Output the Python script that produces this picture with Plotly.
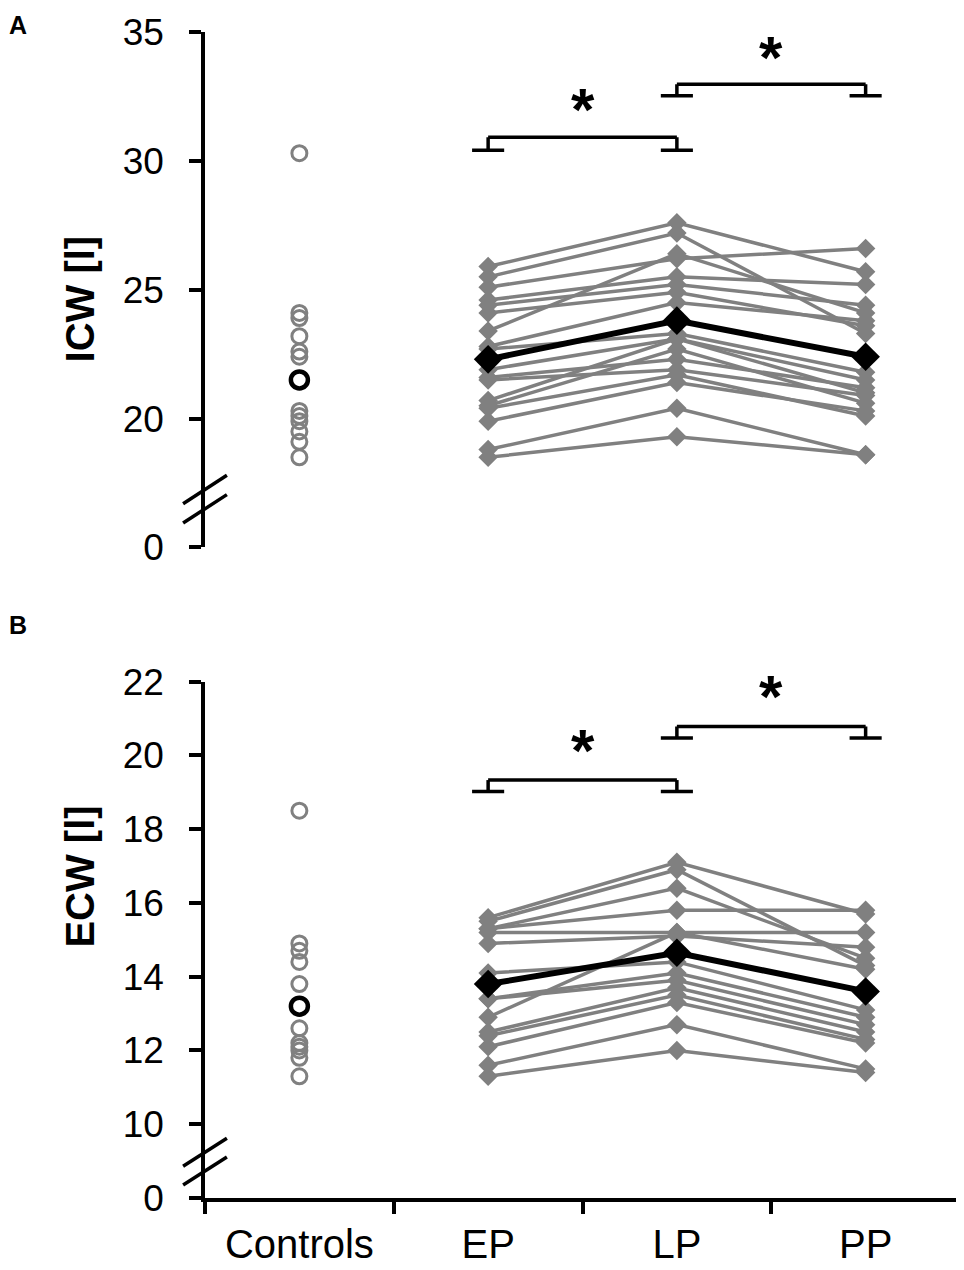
import plotly.graph_objects as go

# categories on the x axis
groups = ["Controls", "EP", "LP", "PP"]
phases = ["EP", "LP", "PP"]

# ICW [l] - one entry per subject
icw_ep = [25.9, 25.5, 25.1, 24.6, 24.4, 24.1, 23.4, 22.8, 22.7, 21.9, 21.6, 21.5, 20.7, 20.5, 20.4, 19.9, 18.8, 18.5]
icw_lp = [27.6, 27.2, 26.2, 25.5, 25.2, 24.9, 26.4, 24.5, 23.3, 23.1, 22.3, 21.9, 23.1, 22.7, 21.7, 21.4, 20.4, 19.3]
icw_pp = [25.7, 23.3, 26.6, 25.2, 24.4, 23.6, 24.1, 23.8, 21.8, 21.5, 21.2, 20.9, 21.0, 20.6, 20.1, 20.3, 18.6, 18.6]
icw_mean = [22.3, 23.8, 22.4]
icw_controls = [30.3, 24.1, 23.9, 23.2, 22.6, 22.4, 20.3, 20.1, 19.9, 19.5, 19.1, 18.5]
icw_controls_mean = 21.5

# ECW [l]
ecw_ep = [15.6, 15.5, 15.3, 15.3, 15.2, 14.9, 14.1, 13.4, 12.9, 13.4, 12.5, 12.4, 12.1, 11.6, 11.3]
ecw_lp = [17.1, 16.9, 16.4, 15.8, 15.2, 15.1, 14.4, 14.1, 15.2, 13.9, 13.7, 13.5, 13.3, 12.7, 12.0]
ecw_pp = [15.7, 14.3, 14.5, 15.8, 15.2, 14.8, 13.1, 12.9, 14.2, 12.7, 12.5, 12.3, 12.2, 11.5, 11.4]
ecw_mean = [13.8, 14.65, 13.6]
ecw_controls = [18.5, 14.9, 14.7, 14.4, 13.8, 12.6, 12.2, 12.1, 12.0, 11.8, 11.3]
ecw_controls_mean = 13.2

# broken y axes: the lowest tick value stands for "0"
icw_tickvals = [15, 20, 25, 30, 35]
icw_ticktext = ["0", "20", "25", "30", "35"]
ecw_tickvals = [8, 10, 12, 14, 16, 18, 20, 22]
ecw_ticktext = ["0", "10", "12", "14", "16", "18", "20", "22"]

# significance brackets: (from, to, bar level, foot level, star level)
icw_brackets = [(1, 2, 30.92, 30.41, 31.98), (2, 3, 32.97, 32.53, 34.03)]
ecw_brackets = [(1, 2, 19.33, 19.02, 20.14), (2, 3, 20.78, 20.47, 21.59)]

GRAY = "#808080"
FONT = "Liberation Sans, Arial, sans-serif"

fig = go.Figure()


def add_panel(fig, ep, lp, pp, means, controls, controls_mean, xa, ya):
    for a, b, c in zip(ep, lp, pp):
        fig.add_trace(go.Scatter(x=phases, y=[a, b, c], mode="lines+markers",
                                 line=dict(color=GRAY, width=3.5),
                                 marker=dict(symbol="diamond", size=15, color=GRAY),
                                 xaxis=xa, yaxis=ya, showlegend=False))
    fig.add_trace(go.Scatter(x=phases, y=means, mode="lines+markers",
                             line=dict(color="black", width=6),
                             marker=dict(symbol="diamond", size=22, color="black"),
                             xaxis=xa, yaxis=ya, showlegend=False))
    fig.add_trace(go.Scatter(x=["Controls"] * len(controls), y=controls, mode="markers",
                             marker=dict(symbol="circle-open", size=15, color=GRAY,
                                         line=dict(width=3, color=GRAY)),
                             xaxis=xa, yaxis=ya, showlegend=False))
    fig.add_trace(go.Scatter(x=["Controls"], y=[controls_mean], mode="markers",
                             marker=dict(symbol="circle-open", size=17, color="black",
                                         line=dict(width=4.5, color="black")),
                             xaxis=xa, yaxis=ya, showlegend=False))


def add_brackets(fig, brackets, xref, yref):
    foot = 0.085
    for i0, i1, top, low, star in brackets:
        segs = [(i0, top, i1, top), (i0, top, i0, low), (i1, top, i1, low),
                (i0 - foot, low, i0 + foot, low), (i1 - foot, low, i1 + foot, low)]
        for x0, y0, x1, y1 in segs:
            fig.add_shape(type="line", x0=x0, y0=y0, x1=x1, y1=y1, xref=xref, yref=yref,
                          line=dict(color="black", width=3.5))
        fig.add_annotation(x=(i0 + i1) / 2, y=star, xref=xref, yref=yref, text="<b>*</b>",
                           showarrow=False, xanchor="center", yanchor="middle",
                           font=dict(size=60, color="black", family=FONT))


def add_break(fig, yref, levels, dy):
    for lv in levels:
        fig.add_shape(type="line", xref="paper", yref=yref, x0=-0.029, x1=0.029,
                      y0=lv - dy, y1=lv + dy, line=dict(color="black", width=3.5))


add_panel(fig, icw_ep, icw_lp, icw_pp, icw_mean, icw_controls, icw_controls_mean, "x", "y")
add_panel(fig, ecw_ep, ecw_lp, ecw_pp, ecw_mean, ecw_controls, ecw_controls_mean, "x2", "y2")
add_brackets(fig, icw_brackets, "x", "y")
add_brackets(fig, ecw_brackets, "x2", "y2")
add_break(fig, "y", [17.25, 16.5], 0.55)
add_break(fig, "y2", [9.24, 8.73], 0.38)

yax = dict(showline=True, linecolor="black", linewidth=3.5, ticks="outside", ticklen=12,
           tickwidth=3.5, tickcolor="black", showgrid=False, zeroline=False,
           ticklabelstandoff=18, tickfont=dict(size=37, color="black", family=FONT))

# page body has an 8px margin, so the figure is sized to fit inside it
fig.update_layout(
    width=956, height=1262,
    margin=dict(l=197, r=4, t=16, b=72),
    plot_bgcolor="white", paper_bgcolor="white",
    xaxis=dict(type="category", categoryorder="array", categoryarray=groups,
               range=[-0.5, 3.5], anchor="y", showline=False, showticklabels=False,
               ticks="", showgrid=False, zeroline=False),
    yaxis=dict(yax, domain=[0.5579, 1], range=[15, 35], tickvals=icw_tickvals,
               ticktext=icw_ticktext, anchor="x"),
    xaxis2=dict(type="category", categoryorder="array", categoryarray=groups,
                range=[-0.5, 3.5], anchor="y2", showline=True, linecolor="black",
                linewidth=3.5, ticks="outside", tickson="boundaries", ticklen=12,
                tickwidth=3.5, tickcolor="black", showgrid=False, zeroline=False,
                ticklabelstandoff=8, tickfont=dict(size=40, color="black", family=FONT)),
    yaxis2=dict(yax, domain=[0, 0.4429], range=[8, 22], tickvals=ecw_tickvals,
                ticktext=ecw_ticktext, anchor="x2"),
)

# axis titles and panel letters
title_font = dict(size=40, color="black", family=FONT)
fig.add_annotation(x=-0.165, y=0.771, xref="paper", yref="paper", text="<b>ICW [l]</b>",
                   textangle=-90, showarrow=False, xanchor="center", yanchor="middle",
                   font=title_font)
fig.add_annotation(x=-0.165, y=0.276, xref="paper", yref="paper", text="<b>ECW [l]</b>",
                   textangle=-90, showarrow=False, xanchor="center", yanchor="middle",
                   font=title_font)
letter_font = dict(size=25, color="black", family=FONT)
fig.add_annotation(x=-0.248, y=1.006, xref="paper", yref="paper", text="<b>A</b>",
                   showarrow=False, xanchor="center", yanchor="middle", font=letter_font)
fig.add_annotation(x=-0.248, y=0.491, xref="paper", yref="paper", text="<b>B</b>",
                   showarrow=False, xanchor="center", yanchor="middle", font=letter_font)

fig.write_html("out.html")
